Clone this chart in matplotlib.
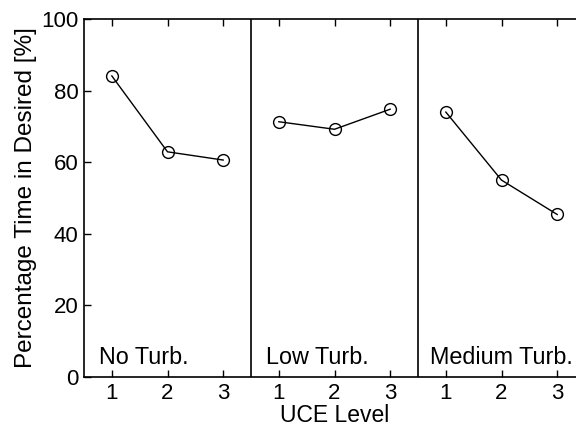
import matplotlib.pyplot as plt

plt.rcParams['font.family'] = ['Liberation Sans', 'DejaVu Sans']

# duomenys
uce_levels = [1, 2, 3]
conditions = ['No Turb.', 'Low Turb.', 'Medium Turb.']
no_turb = [84.1, 62.9, 60.6]
low_turb = [71.3, 69.2, 74.8]
medium_turb = [74.0, 55.0, 45.4]
yticks = [0, 20, 40, 60, 80, 100]

fig = plt.figure(figsize=(5.76, 4.30), dpi=100)
# right edge of the axes goes past the figure, as in the reference
ax = fig.add_axes([84 / 576, 53 / 430, 501 / 576, 358 / 430])

groups = [no_turb, low_turb, medium_turb]
for i, vals in enumerate(groups):
    xs = [x + 3 * i for x in uce_levels]
    ax.plot(xs, vals, color='black', lw=1.0, marker='o', markersize=8.5,
            markerfacecolor='none', markeredgecolor='black', markeredgewidth=1.0)

# skiriamosios linijos tarp grupiu
for xv in [3.5, 6.5]:
    ax.axvline(xv, color='black', lw=1.2)

# grupiu pavadinimai
text_x = [0.77, 3.77, 6.72]
for tx, name in zip(text_x, conditions):
    ax.text(tx, 3.5, name, fontsize=16.8, ha='left', va='baseline')

ax.set_xlim(0.5, 9.5)
ax.set_ylim(0, 100)
ax.set_xticks(range(1, 10))
ax.set_xticklabels([str(v) for v in uce_levels] * 3)
ax.set_yticks(yticks)
ax.tick_params(direction='in', top=True, right=False, labelsize=16, length=5,
               width=1, pad=4)
for s in ax.spines.values():
    s.set_linewidth(1.2)

ax.set_xlabel('UCE Level', fontsize=16.5, labelpad=0)
ax.set_ylabel('Percentage Time in Desired [%]', fontsize=17.5, labelpad=3)

plt.savefig('out.png', dpi=100)
